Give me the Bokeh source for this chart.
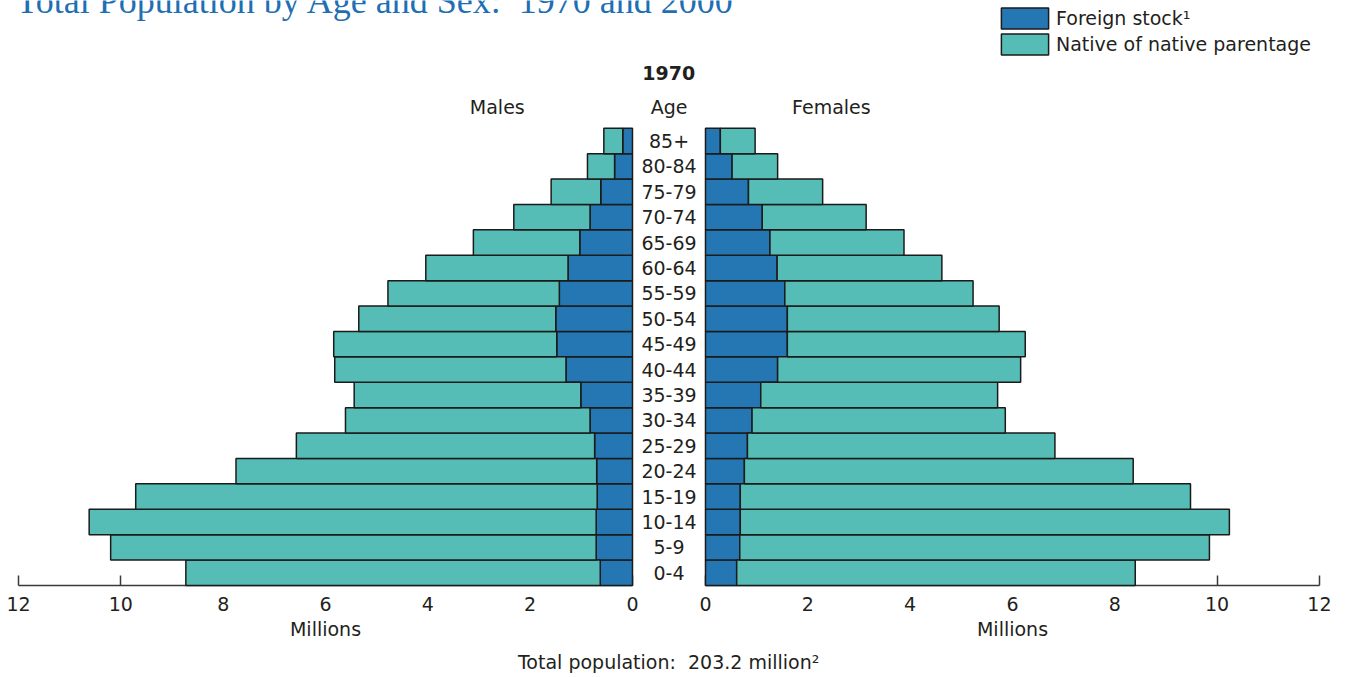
from bokeh.plotting import figure
from bokeh.models import Range1d, LinearAxis, FixedTicker, Label, Legend, LegendItem
from bokeh.core.properties import value
from bokeh.embed import file_html
from bokeh.resources import INLINE

# ---- data (millions), youngest first ----
ages = ["0-4", "5-9", "10-14", "15-19", "20-24", "25-29", "30-34", "35-39", "40-44",
        "45-49", "50-54", "55-59", "60-64", "65-69", "70-74", "75-79", "80-84", "85+"]
male_foreign = [0.63, 0.71, 0.71, 0.69, 0.70, 0.74, 0.83, 1.01, 1.30,
                1.48, 1.50, 1.43, 1.26, 1.03, 0.83, 0.62, 0.35, 0.19]
male_native = [8.10, 9.49, 9.91, 9.02, 7.05, 5.83, 4.78, 4.43, 4.52,
               4.36, 3.85, 3.35, 2.78, 2.08, 1.49, 0.97, 0.53, 0.37]
female_foreign = [0.61, 0.67, 0.68, 0.68, 0.76, 0.82, 0.91, 1.08, 1.41,
                  1.60, 1.60, 1.55, 1.40, 1.26, 1.11, 0.84, 0.52, 0.29]
female_native = [7.79, 9.18, 9.56, 8.80, 7.60, 6.01, 4.95, 4.63, 4.75,
                 4.65, 4.14, 3.68, 3.22, 2.62, 2.03, 1.45, 0.89, 0.68]
x_ticks = [0, 2, 4, 6, 8, 10, 12]

FONT = "DejaVu Sans"
FS = "19px"
TXT = "#231f20"
BLUE = "#2577b4"
TEAL = "#55bdb5"
EDGE = "#1b1b1b"

idx = list(range(len(ages)))
male_total = [f + n for f, n in zip(male_foreign, male_native)]
female_total = [f + n for f, n in zip(female_foreign, female_native)]

# the plotting frame fills the whole canvas so nothing is clipped
p = figure(width=1340, height=675, output_backend="svg", toolbar_location=None,
           x_range=Range1d(-13.780, 12.412), y_range=Range1d(-4.045, 22.53),
           x_axis_type=None, y_axis_type=None,
           min_border_left=0, min_border_right=0, min_border_top=0,
           min_border_bottom=0)
p.extra_x_ranges = {"males": Range1d(12.353, -13.839)}
p.outline_line_color = None
p.background_fill_color = "white"

bar_kw = dict(height=1, line_color=EDGE, line_width=1.5)
r_mf = p.hbar(y=idx, left=0, right=male_foreign, fill_color=BLUE, x_range_name="males", **bar_kw)
r_mn = p.hbar(y=idx, left=male_foreign, right=male_total, fill_color=TEAL, x_range_name="males", **bar_kw)
p.hbar(y=idx, left=0, right=female_foreign, fill_color=BLUE, **bar_kw)
p.hbar(y=idx, left=female_foreign, right=female_total, fill_color=TEAL, **bar_kw)

# age labels in the central gap
p.text(x=[-0.713] * len(ages), y=idx, text=ages, text_align="center", text_baseline="middle",
       text_font=value(FONT), text_font_size=FS, text_color=TXT)

def base_axis(ax):
    ax.ticker = FixedTicker(ticks=x_ticks)
    ax.bounds = (0, 12)
    ax.fixed_location = -0.5
    ax.minor_tick_line_color = None

def line_axis(ax):
    # axis line and inward ticks, drawn beneath the bars
    base_axis(ax)
    ax.level = "underlay"
    ax.axis_line_color = "#3a3a3a"
    ax.axis_line_width = 1.5
    ax.major_tick_line_color = "#3a3a3a"
    ax.major_tick_line_width = 1.5
    ax.major_tick_in = 10
    ax.major_tick_out = 0
    ax.major_label_text_alpha = 0

def label_axis(ax):
    # tick labels and axis title
    base_axis(ax)
    ax.axis_line_color = None
    ax.major_tick_line_color = None
    ax.major_tick_in = 0
    ax.major_tick_out = 0
    ax.major_label_text_font = FONT
    ax.major_label_text_font_size = FS
    ax.major_label_text_color = TXT
    ax.major_label_standoff = 12
    ax.axis_label = "Millions"
    ax.axis_label_text_font = FONT
    ax.axis_label_text_font_size = FS
    ax.axis_label_text_font_style = "normal"
    ax.axis_label_text_color = TXT
    ax.axis_label_standoff = 3

for rng in ("males", "default"):
    a1 = LinearAxis(x_range_name=rng)
    line_axis(a1)
    p.add_layout(a1, "below")
    a2 = LinearAxis(x_range_name=rng)
    label_axis(a2)
    p.add_layout(a2, "below")

def lab(x, y, text, size=FS, style="normal", color=TXT, font=FONT, align="center", baseline="middle"):
    p.add_layout(Label(x=x, y=y, text=text, text_font=font, text_font_size=size,
                       text_font_style=style, text_color=color, text_align=align,
                       text_baseline=baseline))

lab(-13.47, 22.51, "Total Population by Age and Sex:\u00a0 1970 and 2000", size="36px",
    color="#1f6fb2", font="Liberation Serif", align="left", baseline="middle")
lab(-0.72, 19.66, "1970", style="bold")
lab(-4.07, 18.32, "Males")
lab(-0.713, 18.32, "Age")
lab(2.46, 18.32, "Females")
lab(-0.72, -3.53, "Total population:\u00a0 203.2 million\u00b2")

legend = Legend(items=[LegendItem(label="Foreign stock\u00b9", renderers=[r_mf]),
                       LegendItem(label="Native of native parentage", renderers=[r_mn])],
                location=(995, 618), glyph_width=59, glyph_height=26, label_standoff=2,
                spacing=0, padding=0, margin=0, border_line_color=None,
                background_fill_alpha=0, label_text_font=FONT, label_text_font_size=FS,
                label_text_color=TXT)
p.add_layout(legend)

open("out.html", "w").write(file_html(p, INLINE))
